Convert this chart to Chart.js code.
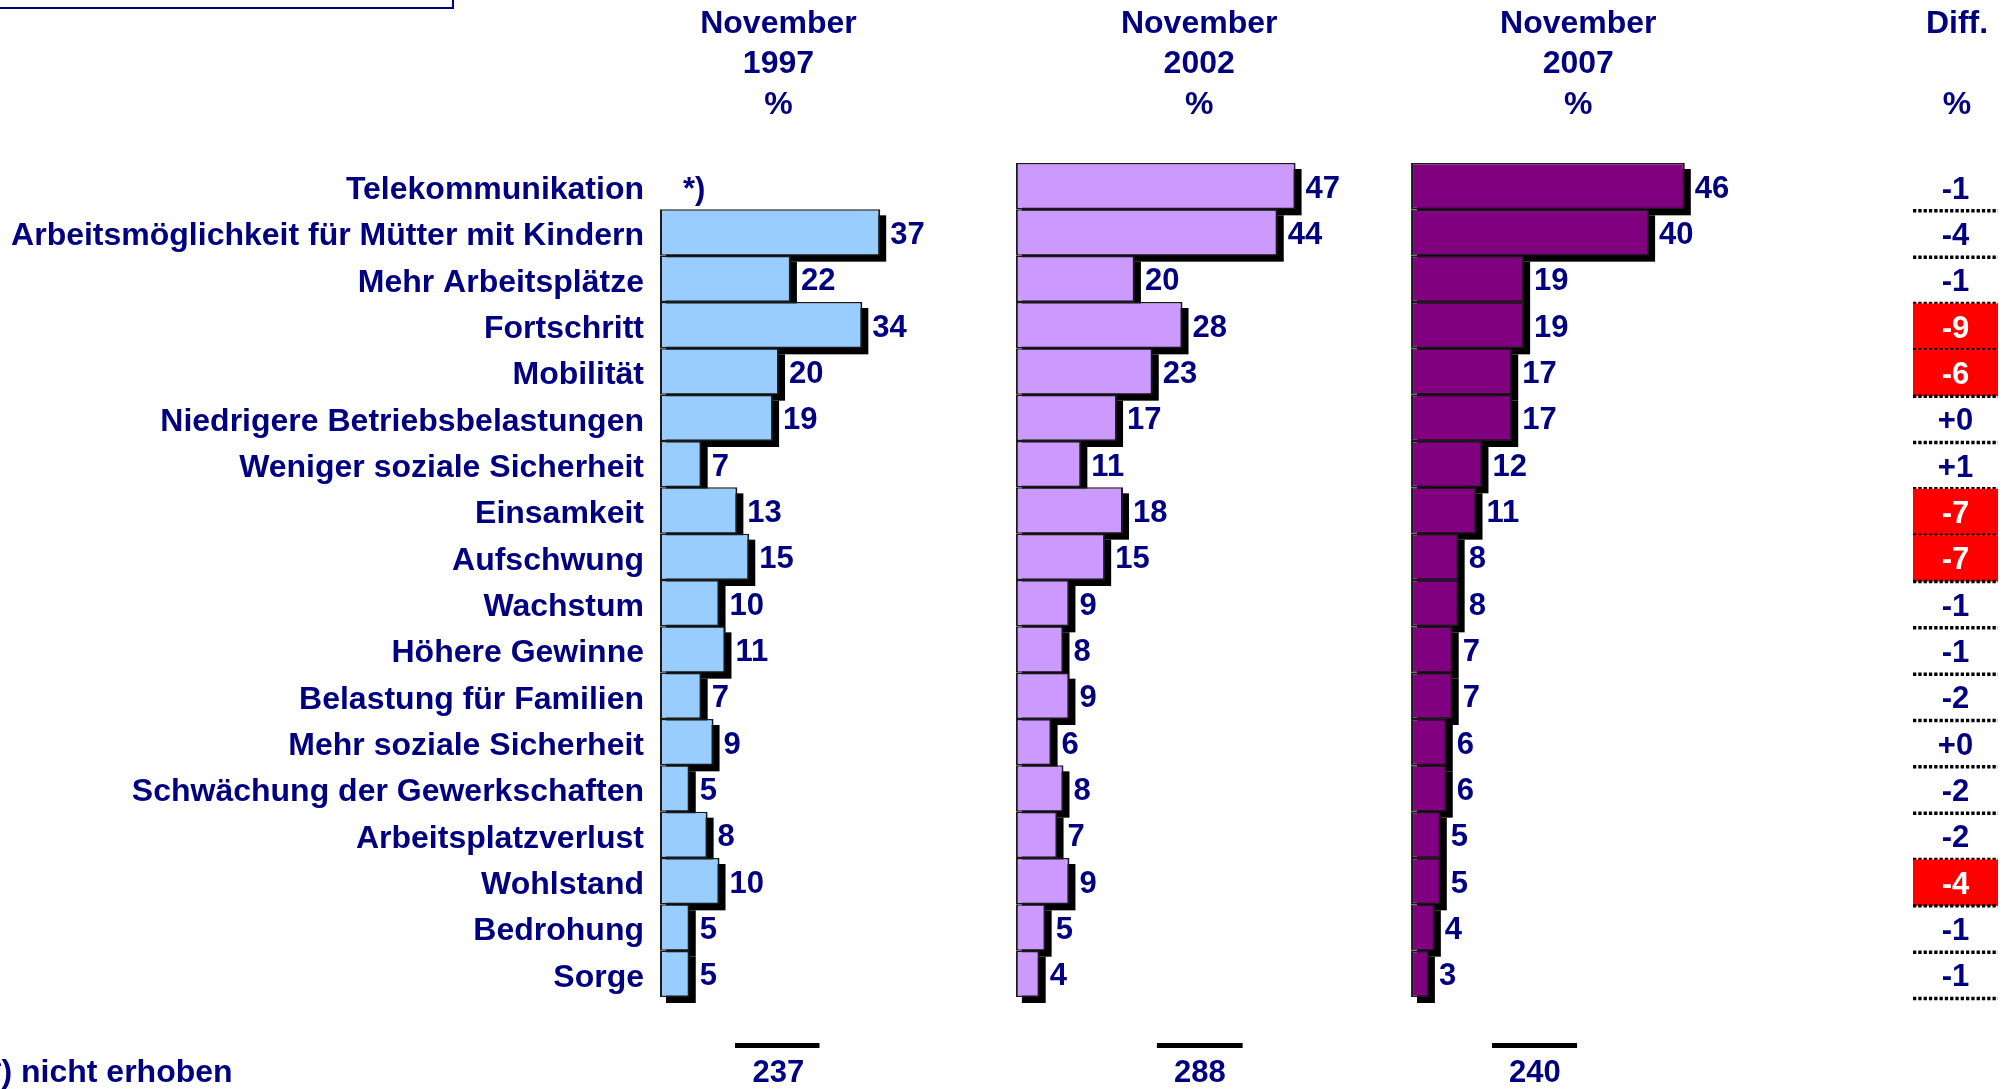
<!DOCTYPE html>
<html lang="de">
<head>
<meta charset="utf-8" />
<title>Assoziationen</title>
<script src="https://cdn.jsdelivr.net/npm/chart.js@4.4.1/dist/chart.umd.min.js"></script>
<style>
    html, body { margin: 0; padding: 0; background: #fff; }
    #wrap { width: 2010px; height: 1089px; position: relative; }
</style>
</head>
<body>
<div id="wrap"><canvas id="assoz"></canvas></div>
<script>
var begriffe = [
    "Telekommunikation",
    "Arbeitsmöglichkeit für Mütter mit Kindern",
    "Mehr Arbeitsplätze",
    "Fortschritt",
    "Mobilität",
    "Niedrigere Betriebsbelastungen",
    "Weniger soziale Sicherheit",
    "Einsamkeit",
    "Aufschwung",
    "Wachstum",
    "Höhere Gewinne",
    "Belastung für Familien",
    "Mehr soziale Sicherheit",
    "Schwächung der Gewerkschaften",
    "Arbeitsplatzverlust",
    "Wohlstand",
    "Bedrohung",
    "Sorge"
];
var werte1997 = [null, 37, 22, 34, 20, 19, 7, 13, 15, 10, 11, 7, 9, 5, 8, 10, 5, 5];
var werte2002 = [47, 44, 20, 28, 23, 17, 11, 18, 15, 9, 8, 9, 6, 8, 7, 9, 5, 4];
var werte2007 = [46, 40, 19, 19, 17, 17, 12, 11, 8, 8, 7, 7, 6, 6, 5, 5, 4, 3];
var differenz = [-1, -4, -1, -9, -6, 0, 1, -7, -7, -1, -1, -2, 0, -2, -2, -4, -1, -1];
var markiert = [false, false, false, true, true, false, false, true, true, false, false, false, false, false, false, true, false, false];
var jahre = ["1997", "2002", "2007"];
var fallzahlen = [237, 288, 240];

var NAVY = "#000080";
var FONT = "'Liberation Sans', Arial, sans-serif";
var panelMax = [59.8, 66.4, 78.8]; // width of each panel in percent units

function txt(ctx, s, x, y, align, color, size) {
    ctx.font = "bold " + size + "px " + FONT;
    ctx.fillStyle = color;
    ctx.textAlign = align;
    ctx.textBaseline = "middle";
    ctx.fillText(s, x, y);
}

var extras = {
    id: "extras",
    beforeDatasetDraw: function (chart, args) {
        // black drop shadow behind the bars
        var ctx = chart.ctx;
        var werte = chart.data.datasets[args.index].data;
        ctx.save();
        ctx.fillStyle = "#000";
        args.meta.data.forEach(function (el, k) {
            if (werte[k] == null) return;
            ctx.fillRect(el.base + 6, el.y - el.height / 2 + 6, el.x - el.base, el.height);
        });
        ctx.restore();
    },
    afterDraw: function (chart) {
        var ctx = chart.ctx;
        var y = chart.scales.y;
        var sc = [chart.scales.x1, chart.scales.x2, chart.scales.x3];
        ctx.save();

        // rest of the title box (cut off at the top)
        ctx.strokeStyle = NAVY;
        ctx.lineWidth = 2;
        ctx.strokeRect(-5, -40, 458, 48);

        // column heads
        var kopf = [19.9, 30.8, 28.1];
        jahre.forEach(function (j, i) {
            var x = sc[i].getPixelForValue(kopf[i]);
            txt(ctx, "November", x, 24, "center", NAVY, 32);
            txt(ctx, j, x, 64, "center", NAVY, 32);
            txt(ctx, "%", x, 105, "center", NAVY, 32);
        });
        txt(ctx, "Diff.", 1957, 24, "center", NAVY, 32);
        txt(ctx, "%", 1957, 105, "center", NAVY, 32);

        // values next to the bars
        chart.data.datasets.forEach(function (ds, i) {
            chart.getDatasetMeta(i).data.forEach(function (el, k) {
                var v = ds.data[k];
                if (v == null) {
                    txt(ctx, "*)", sc[i].getPixelForValue(0) + 23, el.y + 4, "left", NAVY, 31);
                } else {
                    txt(ctx, String(v), el.x + 10, el.y + 3, "left", NAVY, 31);
                }
            });
        });

        // Diff. column
        var band = (y.bottom - y.top) / begriffe.length;
        var dl = 1913, dr = 1998;
        differenz.forEach(function (d, k) {
            var top = y.top + k * band;
            if (markiert[k]) {
                ctx.fillStyle = "#ff0000";
                ctx.fillRect(dl, top + 1.5, dr - dl, band);
            }
            var s = d > 0 ? "+" + d : (d === 0 ? "+0" : "-" + Math.abs(d));
            txt(ctx, s, (dl + dr) / 2, top + band / 2 + 4, "center", markiert[k] ? "#ffffff" : NAVY, 31);
            ctx.beginPath();
            ctx.setLineDash([3.3, 2]);
            ctx.lineWidth = 3.5;
            ctx.strokeStyle = "#000";
            ctx.moveTo(dl, top + band + 1.5);
            ctx.lineTo(dr, top + band + 1.5);
            ctx.stroke();
            ctx.setLineDash([]);
        });

        // case numbers under each column
        var fuss = [[12.6, 26.8, 19.9], [23.7, 38.1, 30.9], [13.6, 27.9, 20.8]];
        fallzahlen.forEach(function (n, i) {
            var a = sc[i].getPixelForValue(fuss[i][0]);
            var b = sc[i].getPixelForValue(fuss[i][1]);
            ctx.fillStyle = "#000";
            ctx.fillRect(a, 1043, b - a, 5);
            txt(ctx, String(n), sc[i].getPixelForValue(fuss[i][2]), 1073, "center", NAVY, 31);
        });
        txt(ctx, "*) nicht erhoben", -11, 1073, "left", NAVY, 32);
        ctx.restore();
    }
};

function panelAchse(i) {
    return {
        type: "linear",
        position: "bottom",
        stack: "panels",
        stackWeight: panelMax[i],
        min: 0,
        max: panelMax[i],
        display: false
    };
}

new Chart(document.getElementById("assoz"), {
    type: "bar",
    data: {
        labels: begriffe,
        datasets: [
            { data: werte1997, xAxisID: "x1", backgroundColor: "#99ccff" },
            { data: werte2002, xAxisID: "x2", backgroundColor: "#cc99ff" },
            { data: werte2007, xAxisID: "x3", backgroundColor: "#800080" }
        ]
    },
    options: {
        indexAxis: "y",
        responsive: true,
        maintainAspectRatio: false,
        animation: false,
        layout: { padding: { top: 163, bottom: 92, left: 0, right: 130 } },
        datasets: {
            bar: {
                grouped: false,
                barPercentage: 1,
                categoryPercentage: 1,
                borderColor: "#1a1a1a",
                borderWidth: { top: 1.5, bottom: 1.5, left: 2, right: 2 },
                borderSkipped: false,
                inflateAmount: 0,
                clip: false
            }
        },
        plugins: {
            legend: { display: false },
            tooltip: { enabled: false }
        },
        scales: {
            y: {
                grid: { display: false, drawTicks: false },
                border: { display: false },
                ticks: {
                    color: NAVY,
                    font: { family: FONT, size: 32, weight: "bold" },
                    padding: 16,
                    labelOffset: 4,
                    autoSkip: false
                },
                afterFit: function (s) { s.width = 660; }
            },
            x1: panelAchse(0),
            x2: panelAchse(1),
            x3: panelAchse(2)
        }
    },
    plugins: [extras]
});
</script>
</body>
</html>
